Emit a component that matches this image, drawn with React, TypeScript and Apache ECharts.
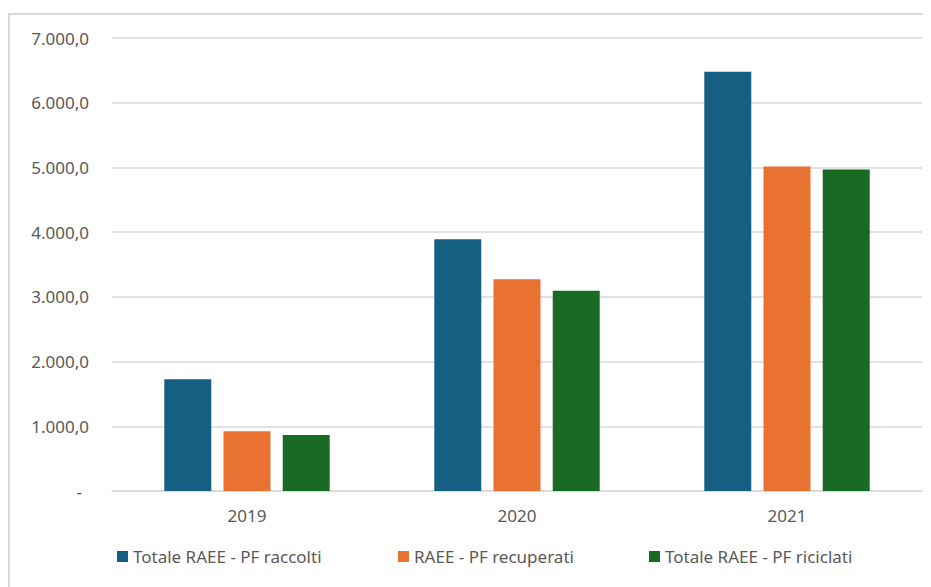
import React, { useEffect, useRef } from "react";
import * as echarts from "echarts";

const categories = ["2019", "2020", "2021"];
const seriesNames = [
  "Totale RAEE - PF raccolti",
  "RAEE - PF recuperati",
  "Totale RAEE - PF riciclati",
];
const raccolti = [1725, 3890, 6480];
const recuperati = [922, 3274, 5014];
const riciclati = [865, 3093, 4967];
const colors = ["#156082", "#E97132", "#196B24"];

const fmt = (v: number) => {
  if (v === 0) return "{d|-}";
  const s = Math.round(v).toString().replace(/\B(?=(\d{3})+(?!\d))/g, ".");
  return s + ",0";
};

export default function App() {
  const ref = useRef<HTMLDivElement>(null);
  useEffect(() => {
    if (!ref.current) return;
    const chart = echarts.init(ref.current, null, { renderer: "svg" });
    const font = "Noto Sans";
    const data = [raccolti, recuperati, riciclati];
    const legendLefts = [107, 388, 639];
    chart.setOption({
      animation: false,
      textStyle: { fontFamily: font },
      grid: { left: 102, right: 9, top: 23, bottom: 96, containLabel: false },
      legend: seriesNames.map((n, i) => ({
        left: legendLefts[i],
        top: 533,
        padding: 0,
        itemWidth: 11,
        itemHeight: 11,
        itemGap: 5,
        icon: "rect",
        textStyle: { color: "#595959", fontSize: 17, fontFamily: font },
        data: [n],
      })),
      xAxis: {
        type: "category",
        data: categories,
        axisLine: { lineStyle: { color: "#d9d9d9", width: 1.5 } },
        axisTick: { show: false },
        axisLabel: { color: "#595959", fontSize: 17, margin: 16, fontFamily: font },
      },
      yAxis: {
        type: "value",
        min: 0,
        max: 7000,
        interval: 1000,
        axisLine: { show: false },
        axisTick: { show: false },
        splitLine: { lineStyle: { color: "#d9d9d9", width: 1.5 } },
        axisLabel: {
          color: "#595959",
          fontSize: 17,
          margin: 23,
          fontFamily: font,
          formatter: fmt,
          rich: { d: { color: "#595959", fontSize: 17, padding: [0, 7, 0, 0] } },
        },
      },
      series: seriesNames.map((n, i) => ({
        name: n,
        type: "bar",
        data: data[i],
        barWidth: 47,
        barGap: "26%",
        itemStyle: { color: colors[i] },
      })),
    });
    return () => chart.dispose();
  }, []);
  return (
    <div
      ref={ref}
      style={{
        width: 921,
        height: 572,
        marginTop: 5,
        borderTop: "2px solid #d9d9d9",
        borderLeft: "2px solid #d9d9d9",
      }}
    />
  );
}
